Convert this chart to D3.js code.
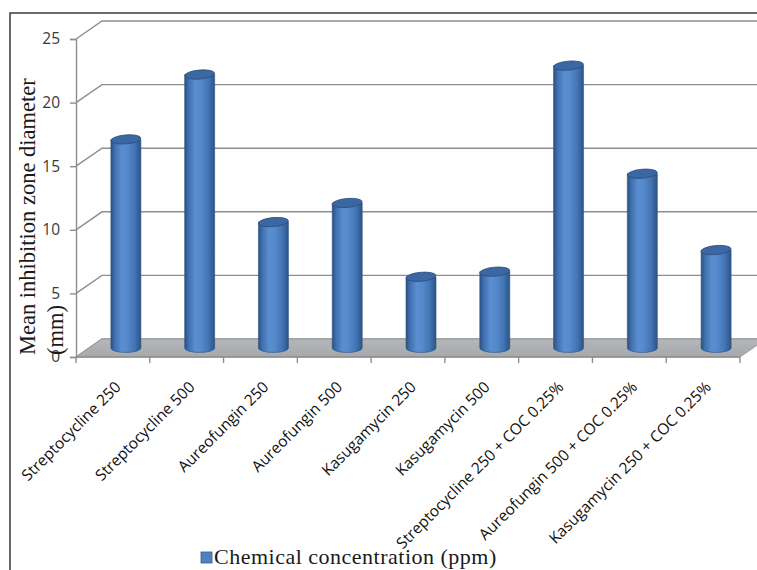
<!DOCTYPE html>
<html><head><meta charset="utf-8">
<script src="https://cdn.jsdelivr.net/npm/d3@7"></script>
<style>html,body{margin:0;padding:0;background:#fff} svg{display:block}</style>
</head><body><svg id="c" width="757" height="570"></svg>
<script>
const categories = ["Streptocycline 250","Streptocycline 500","Aureofungin 250","Aureofungin 500","Kasugamycin 250","Kasugamycin 500","Streptocycline 250 + COC 0.25%","Aureofungin 500 + COC 0.25%","Kasugamycin 250 + COC 0.25%"];
const values = [16.4, 21.5, 9.9, 11.4, 5.6, 6.0, 22.2, 13.7, 7.7];
const yTicks = [0, 5, 10, 15, 20, 25];
const seriesName = "Chemical concentration (ppm)";
const yTitleLines = ["Mean inhibition zone diameter", "(mm)"];

const svg = d3.select("#c");
const W = 757, H = 570;
const DX = 26, DY = -18;          // depth offset of back wall
const x = d3.scaleBand().domain(categories).range([76, 740]).padding(0);
const y = d3.scaleLinear().domain([0, 25]).range([357, 39]);
const gridCol = "#8e8e8e";

const defs = svg.append("defs");
const g1 = defs.append("linearGradient").attr("id","cyl").attr("x1","0").attr("x2","1").attr("y1","0").attr("y2","0");
[[0,"#2b4f80"],[0.12,"#3e6ead"],[0.35,"#5a8ed0"],[0.55,"#5489cb"],[0.8,"#4373b3"],[1,"#2c5386"]]
  .forEach(([o,c]) => g1.append("stop").attr("offset",o).attr("stop-color",c));
const g2 = defs.append("linearGradient").attr("id","floor").attr("x1","0").attr("x2","0").attr("y1","0").attr("y2","1");
g2.append("stop").attr("offset",0).attr("stop-color","#b4b6b9");
g2.append("stop").attr("offset",1).attr("stop-color","#a6a8ab");

// frame
svg.append("path").attr("d", `M10,${H} V13 H${W}`).attr("fill","none").attr("stroke","#3a3a3a").attr("stroke-width",1.5);

// back-wall gridlines with depth diagonals
const grid = svg.append("g");
yTicks.forEach(t => {
  const yf = y(t);
  grid.append("path")
    .attr("d", `M${x.range()[0]},${yf} L${x.range()[0]+DX},${yf+DY} L${W+20},${yf+DY}`)
    .attr("fill","none").attr("stroke",gridCol).attr("stroke-width",1.4);
});

// floor
const x0 = x.range()[0], x1 = x.range()[1];
svg.append("path")
  .attr("d", `M${x0},${y(0)} L${x0+DX},${y(0)+DY} L${x1+DX},${y(0)+DY} L${x1},${y(0)} Z`)
  .attr("fill","url(#floor)").attr("stroke","#9a9c9f").attr("stroke-width",1);

// y axis
const yAxis = svg.append("g").attr("transform",`translate(${x0},0)`)
  .call(d3.axisLeft(y).tickValues(yTicks).tickSize(6).tickPadding(10).tickFormat(d3.format("d")));
yAxis.select(".domain").attr("stroke",gridCol).attr("stroke-width",1.4);
yAxis.selectAll(".tick line").attr("stroke",gridCol).attr("stroke-width",1.4);
yAxis.selectAll(".tick text").attr("font-family","'Open Sans', sans-serif").attr("font-size",15.5).attr("fill","#3a3a3a");

// x axis front line with boundary ticks
const xg = svg.append("g");
xg.append("line").attr("x1",x0).attr("x2",x1).attr("y1",y(0)).attr("y2",y(0)).attr("stroke",gridCol).attr("stroke-width",1.4);
categories.map(c => x(c)).concat([x1]).forEach(p => {
  xg.append("line").attr("x1",p).attr("x2",p).attr("y1",y(0)).attr("y2",y(0)+6).attr("stroke",gridCol).attr("stroke-width",1.4);
});

// cylinders
const bw = 30, ry = 4.5;
const bars = svg.append("g");
categories.forEach((c, i) => {
  const cx = x(c) + x.bandwidth()/2 + DX/2;
  const yb = y(0) + DY/2;
  const yt = y(values[i]) + DY/2;
  const l = cx - bw/2, r = cx + bw/2;
  bars.append("path")
    .attr("d", `M${l},${yt} L${l},${yb} A${bw/2},${ry} 0 0 0 ${r},${yb} L${r},${yt} Z`)
    .attr("fill","url(#cyl)").attr("stroke","#2f5585").attr("stroke-width",0.6);
  bars.append("ellipse").attr("cx",cx).attr("cy",yt).attr("rx",bw/2).attr("ry",ry)
    .attr("transform",`rotate(-5,${cx},${yt})`)
    .attr("fill","#3b68a3").attr("stroke","#2a4d7c").attr("stroke-width",0.8);
});

// category labels
const lab = svg.append("g");
categories.forEach(c => {
  const px = x(c) + x.bandwidth()/2 + 9, py = 388;
  lab.append("text").attr("transform",`translate(${px},${py}) rotate(-45)`)
    .attr("text-anchor","end").attr("font-family","'Open Sans', sans-serif").attr("font-size",15.5)
    .attr("fill","#111").text(c);
});

// y title
const tt = svg.append("g").attr("font-family","'Liberation Serif', 'Times New Roman', serif").attr("font-size",22.5).attr("fill","#1a1a1a");
tt.append("text").attr("transform","translate(35,355) rotate(-90)").attr("text-anchor","start").text(yTitleLines[0]);
tt.append("text").attr("transform","translate(63,355) rotate(-90)").attr("text-anchor","start").text(yTitleLines[1]);

// legend
const lg = svg.append("g");
lg.append("rect").attr("x",201).attr("y",552).attr("width",11).attr("height",11).attr("fill","#4f81bd").attr("stroke","#385d8a").attr("stroke-width",0.8);
lg.append("text").attr("x",214).attr("y",564).attr("font-family","'Liberation Serif', 'Times New Roman', serif")
  .attr("font-size",22).attr("letter-spacing",0.5).attr("fill","#1a1a1a").text(seriesName);
</script></body></html>
